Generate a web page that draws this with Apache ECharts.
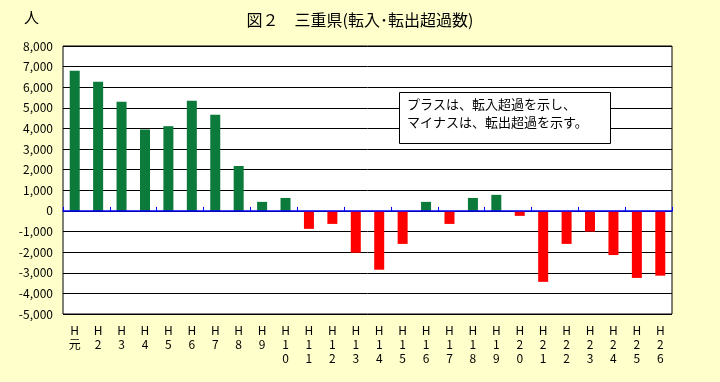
<!DOCTYPE html>
<html><head><meta charset="utf-8">
<script src="https://cdn.jsdelivr.net/npm/echarts@6/dist/echarts.min.js"></script>
<style>html,body{margin:0;padding:0;background:#FFFFCC}#c{width:720px;height:382px}</style>
</head><body><div id="c"></div>
<script>
const categories = ['H元','H2','H3','H4','H5','H6','H7','H8','H9','H10','H11','H12','H13','H14','H15','H16','H17','H18','H19','H20','H21','H22','H23','H24','H25','H26'];
const netMigration = [6800,6260,5290,3950,4110,5340,4660,2180,440,630,-870,-630,-2030,-2850,-1600,440,-630,630,780,-240,-3440,-1600,-1000,-2140,-3250,-3140];
const yTicks = {min:-5000, max:8000, interval:1000};
const titleText = '図２　三重県(転入･転出超過数)';
const unitText = '人';
const noteText = 'プラスは、転入超過を示し、\nマイナスは、転出超過を示す。';

const font = '"Noto Sans CJK JP", "Noto Sans", sans-serif';
const chart = echarts.init(document.getElementById('c'));
chart.setOption({
  backgroundColor:'#FFFFCC',
  animation:false,
  textStyle:{fontFamily:font},
  title:{text:titleText,left:'center',top:7,textStyle:{fontSize:16,fontWeight:'normal',color:'#000',fontFamily:font}},
  grid:{left:63,right:48,top:46,bottom:68,show:true,backgroundColor:'#fff',borderColor:'#000',borderWidth:1},
  graphic:[
    {type:'text',left:24,top:10,style:{text:unitText,fontSize:15,fill:'#000',fontFamily:font}},
    {type:'rect',shape:{x:399.5,y:92.5,width:211,height:51},style:{fill:'#fff',stroke:'#000',lineWidth:1},z:100},
    {type:'text',left:407,top:95,z:101,style:{text:noteText,fontSize:13,lineHeight:18,fill:'#000',fontFamily:font}}
  ],
  xAxis:[
    {type:'category',data:categories,axisLine:{onZero:true,lineStyle:{color:'#0000FF',width:1.5}},
     axisTick:{show:true,inside:true,length:4,lineStyle:{color:'#0000FF',width:1}},axisLabel:{show:false},z:5},
    {type:'category',data:categories,position:'bottom',axisLine:{show:false,onZero:false},axisTick:{show:false},
     axisLabel:{interval:0,margin:9,fontSize:12,lineHeight:14,color:'#000',fontFamily:font,
       formatter:v=>v.split('').join('\n')}}
  ],
  yAxis:{type:'value',min:yTicks.min,max:yTicks.max,interval:yTicks.interval,
    axisLine:{show:false},axisTick:{show:false},
    splitLine:{lineStyle:{color:'#000',width:1}},
    axisLabel:{fontSize:12,color:'#000',margin:10,fontFamily:font,
      formatter:v=>(v<0?'-':'')+Math.abs(v).toLocaleString('en-US')}},
  series:[{type:'bar',data:netMigration,xAxisIndex:0,barWidth:10,
    itemStyle:{color:p=>p.value>=0?'#0B7A3A':'#FF0000'}}]
});
</script></body></html>
